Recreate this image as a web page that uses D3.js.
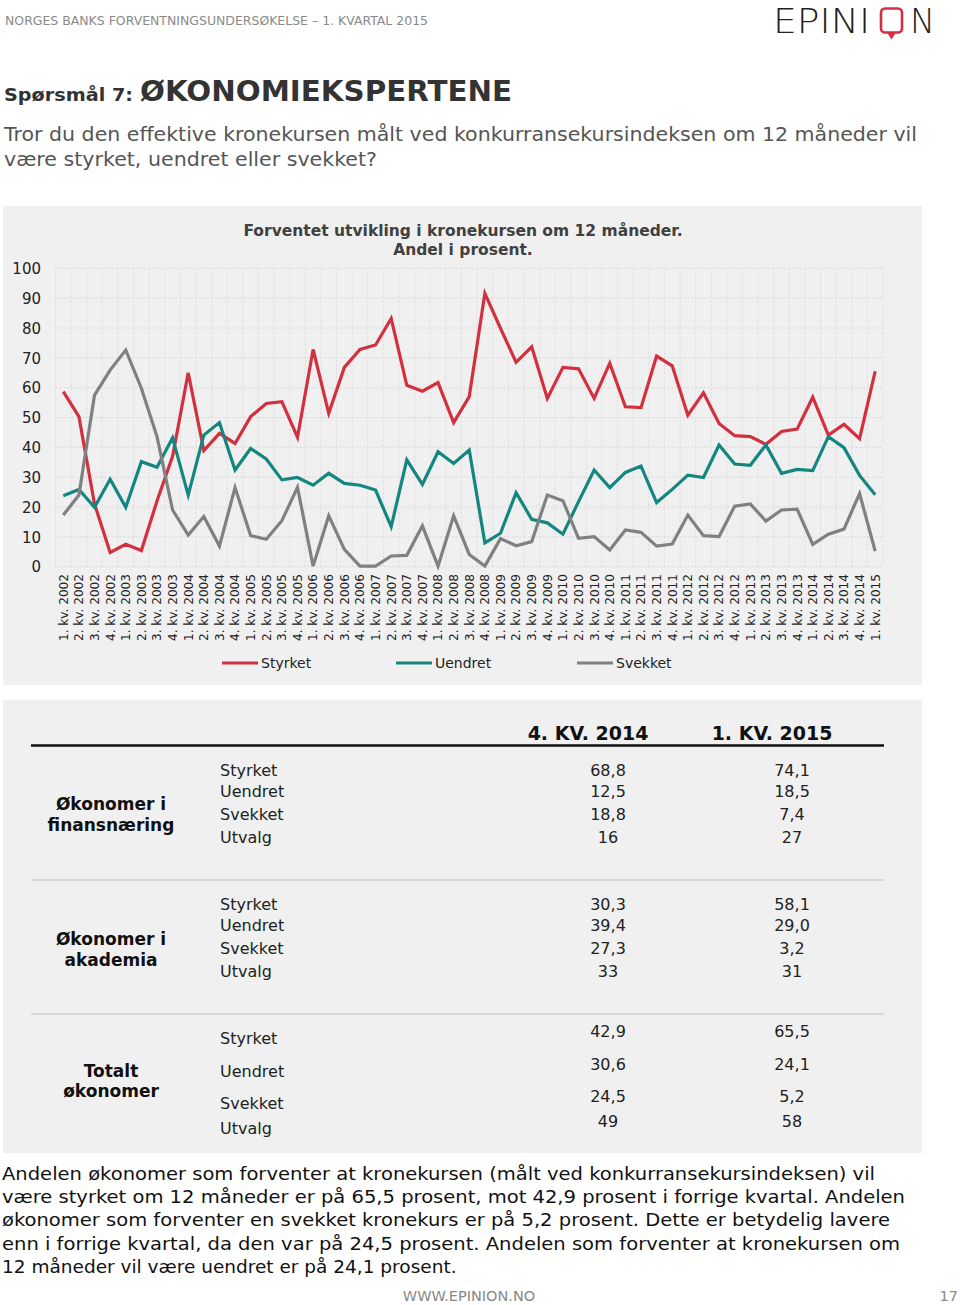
<!DOCTYPE html>
<html><head><meta charset="utf-8">
<script src="https://cdn.jsdelivr.net/npm/d3@7/dist/d3.min.js"></script>
<style>
html,body{margin:0;padding:0;background:#fff;}
svg{display:block;font-family:"DejaVu Sans",Verdana,sans-serif;}
</style></head>
<body>
<svg id="c" width="960" height="1305"></svg>
<script>
const categories = [
"1. kv. 2002","2. kv. 2002","3. kv. 2002","4. kv. 2002",
"1. kv. 2003","2. kv. 2003","3. kv. 2003","4. kv. 2003",
"1. kv. 2004","2. kv. 2004","3. kv. 2004","4. kv. 2004",
"1. kv. 2005","2. kv. 2005","3. kv. 2005","4. kv. 2005",
"1. kv. 2006","2. kv. 2006","3. kv. 2006","4. kv. 2006",
"1. kv. 2007","2. kv. 2007","3. kv. 2007","4. kv. 2007",
"1. kv. 2008","2. kv. 2008","3. kv. 2008","4. kv. 2008",
"1. kv. 2009","2. kv. 2009","3. kv. 2009","4. kv. 2009",
"1. kv. 2010","2. kv. 2010","3. kv. 2010","4. kv. 2010",
"1. kv. 2011","2. kv. 2011","3. kv. 2011","4. kv. 2011",
"1. kv. 2012","2. kv. 2012","3. kv. 2012","4. kv. 2012",
"1. kv. 2013","2. kv. 2013","3. kv. 2013","4. kv. 2013",
"1. kv. 2014","2. kv. 2014","3. kv. 2014","4. kv. 2014",
"1. kv. 2015"];

const styrket = [58.7,50.3,21,4.8,7.5,5.4,22,37,65,38.9,44.7,41.3,50.3,
 54.7,55.3,43.4,72.8,51.4,66.8,72.8,74.3,83.2,60.8,58.8,61.7,48.3,57.0,
 91.6,79.9,68.5,73.7,56.4,66.8,66.3,56.4,68.2,53.6,53.3,70.6,67.3,
 50.8,58.3,48.0,43.9,43.6,41.0,45.3,46.1,56.8,44.1,47.7,42.9,65.5];
const uendret = [23.8,25.9,19.9,29.3,19.9,35.2,33.3,43.2,24.0,44.1,48.3,32.4,39.6,
 36.1,29.1,29.9,27.3,31.3,27.9,27.3,25.7,13.4,35.8,27.6,38.5,34.6,39.1,
 8.0,11.2,24.8,15.9,14.7,10.9,21.8,32.4,26.5,31.6,33.7,21.5,25.9,
 30.7,29.9,40.8,34.4,34.0,40.8,31.3,32.6,32.2,43.6,39.9,30.6,24.1];
const svekket = [17.3,24.0,57.5,65.9,72.6,59.8,43.6,19.0,10.6,16.8,6.9,26.5,10.4,
 9.2,15.4,26.6,0.2,17.1,5.8,0.2,0.2,3.6,3.8,13.7,0.2,17.1,4.1,
 0.2,9.4,7.0,8.4,24.0,22.1,9.5,10.1,5.6,12.3,11.5,6.9,7.6,
 17.3,10.4,10.1,20.3,21.0,15.3,19.0,19.3,7.5,10.9,12.6,24.5,5.2];
const seriesNames = ["Styrket","Uendret","Svekket"];
const seriesColors = ["#d3303f","#138680","#808080"];
const yTicks = [0,10,20,30,40,50,60,70,80,90,100];

const tableHeaders = ["4. KV. 2014","1. KV. 2015"];
const rowLabels = ["Styrket","Uendret","Svekket","Utvalg"];
const groupNames = [["Økonomer i","finansnæring"],["Økonomer i","akademia"],["Totalt","økonomer"]];
const finansQ4 = ["68,8","12,5","18,8","16"];
const finansQ1 = ["74,1","18,5","7,4","27"];
const akademiaQ4 = ["30,3","39,4","27,3","33"];
const akademiaQ1 = ["58,1","29,0","3,2","31"];
const totaltQ4 = ["42,9","30,6","24,5","49"];
const totaltQ1 = ["65,5","24,1","5,2","58"];

const paragraph = [
"Andelen økonomer som forventer at kronekursen (målt ved konkurransekursindeksen) vil",
"være styrket om 12 måneder er på 65,5 prosent, mot 42,9 prosent i forrige kvartal. Andelen",
"økonomer som forventer en svekket kronekurs er på 5,2 prosent. Dette er betydelig lavere",
"enn i forrige kvartal, da den var på 24,5 prosent. Andelen som forventer at kronekursen om",
"12 måneder vil være uendret er på 24,1 prosent."];
const paragraphEnds = [875,905,890,900,null];

const svg = d3.select("#c");

// ---------- header ----------
svg.append("text").attr("x",5).attr("y",25).attr("font-size",13).attr("fill","#8a8a8a")
  .attr("textLength",423).attr("lengthAdjust","spacingAndGlyphs")
  .text("NORGES BANKS FORVENTNINGSUNDERSØKELSE – 1. KVARTAL 2015");

// logo
const logo = svg.append("g");
logo.append("text").attr("x",773).attr("y",33).attr("font-family","'DejaVu Sans',sans-serif")
  .attr("font-weight",200).attr("font-size",33).attr("fill","#222")
  .attr("textLength",97).attr("lengthAdjust","spacingAndGlyphs").text("EPINI");
logo.append("rect").attr("x",881).attr("y",8.5).attr("width",21).attr("height",24).attr("rx",4)
  .attr("fill","none").attr("stroke","#d3303f").attr("stroke-width",2.6);
logo.append("path").attr("d","M888,32.5 L891.5,38 L895,32.5").attr("fill","#d3303f").attr("stroke","#d3303f").attr("stroke-width",1.5);
logo.append("text").attr("x",910).attr("y",33).attr("font-family","'DejaVu Sans',sans-serif")
  .attr("font-weight",200).attr("font-size",33).attr("fill","#222")
  .attr("textLength",25).attr("lengthAdjust","spacingAndGlyphs").text("N");

const t1 = svg.append("text").attr("x",4).attr("y",101).attr("fill","#333").attr("font-weight","bold");
t1.append("tspan").attr("font-size",18).attr("textLength",129).attr("lengthAdjust","spacingAndGlyphs").text("Spørsmål 7:");
t1.append("tspan").attr("font-size",28).attr("x",140).attr("textLength",372).attr("lengthAdjust","spacingAndGlyphs").text("ØKONOMIEKSPERTENE");

svg.append("text").attr("x",4).attr("y",141).attr("font-size",20).attr("fill","#555")
  .attr("textLength",913).attr("lengthAdjust","spacingAndGlyphs")
  .text("Tror du den effektive kronekursen målt ved konkurransekursindeksen om 12 måneder vil");
svg.append("text").attr("x",4).attr("y",166).attr("font-size",20).attr("fill","#555")
  .attr("textLength",373).attr("lengthAdjust","spacingAndGlyphs")
  .text("være styrket, uendret eller svekket?");

// ---------- chart panel ----------
svg.append("rect").attr("x",3).attr("y",206).attr("width",919).attr("height",479).attr("fill","#f0f0f0");

svg.append("text").attr("x",463).attr("y",236).attr("text-anchor","middle").attr("font-size",15.5)
  .attr("font-weight","bold").attr("fill","#404040").text("Forventet utvikling i kronekursen om 12 måneder.");
svg.append("text").attr("x",463).attr("y",255).attr("text-anchor","middle").attr("font-size",15.5)
  .attr("font-weight","bold").attr("fill","#404040").text("Andel i prosent.");

const x = d3.scaleBand().domain(categories).range([55.5,883]).padding(0);
const y = d3.scaleLinear().domain([0,100]).range([566.7,268.3]);
const cx = c => x(c) + x.bandwidth()/2;

const grid = svg.append("g");
grid.selectAll("line.h").data(yTicks).join("line")
  .attr("x1",55.5).attr("x2",883).attr("y1",d=>y(d)).attr("y2",d=>y(d))
  .attr("stroke","#d6d6d6").attr("stroke-width",1).attr("stroke-dasharray","2,2");
grid.selectAll("line.v").data(categories.concat(["end"])).join("line")
  .attr("x1",(d,i)=> i<categories.length ? x(d) : 883)
  .attr("x2",(d,i)=> i<categories.length ? x(d) : 883)
  .attr("y1",y(100)).attr("y2",y(0))
  .attr("stroke","#dadada").attr("stroke-width",1).attr("stroke-dasharray","2,2");

// y axis
const yAxis = svg.append("g").attr("transform","translate(41,0)")
  .call(d3.axisLeft(y).tickValues(yTicks).tickSize(0).tickPadding(0));
yAxis.select(".domain").remove();
yAxis.selectAll("text").attr("font-size",15).attr("fill","#222").attr("font-family","'DejaVu Sans',Verdana,sans-serif")
  .attr("dy","0.35em");

// x axis
const xAxis = svg.append("g").attr("transform","translate(0,570)")
  .call(d3.axisBottom(x).tickSize(0).tickPadding(0));
xAxis.select(".domain").remove();
xAxis.selectAll("text").attr("font-size",12.5).attr("fill","#222")
  .attr("font-family","'DejaVu Sans',Verdana,sans-serif")
  .attr("transform","rotate(-90)").attr("text-anchor","end")
  .attr("x",-4).attr("y",0).attr("dy","0.35em")
  .attr("textLength",67).attr("lengthAdjust","spacingAndGlyphs");

// lines
const data = [styrket, uendret, svekket];
const line = d3.line().x((d,i)=>cx(categories[i])).y(d=>y(d));
svg.append("g").selectAll("path").data(data).join("path")
  .attr("d",d=>line(d)).attr("fill","none")
  .attr("stroke",(d,i)=>seriesColors[i]).attr("stroke-width",3.2)
  .attr("stroke-linejoin","miter").attr("stroke-linecap","butt");

// legend
const legX = [222,396,577];
const leg = svg.append("g").selectAll("g").data(seriesNames).join("g")
  .attr("transform",(d,i)=>`translate(${legX[i]},663)`);
leg.append("line").attr("x1",0).attr("x2",36).attr("y1",0).attr("y2",0)
  .attr("stroke",(d,i)=>seriesColors[i]).attr("stroke-width",3.2);
leg.append("text").attr("x",39).attr("y",0).attr("dy","0.35em").attr("font-size",14).attr("fill","#222").text(d=>d);

// ---------- table panel ----------
svg.append("rect").attr("x",3).attr("y",700).attr("width",919).attr("height",453).attr("fill","#f0f0f0");
const colX = [608,792];
const headX = [588,772];
tableHeaders.forEach((h,i)=>{
  svg.append("text").attr("x",headX[i]).attr("y",740).attr("text-anchor","middle").attr("font-size",19)
    .attr("font-weight","bold").attr("fill","#111").text(h);
});
svg.append("line").attr("x1",31).attr("x2",884).attr("y1",745.5).attr("y2",745.5).attr("stroke","#111").attr("stroke-width",2.5);
svg.append("line").attr("x1",31).attr("x2",884).attr("y1",880).attr("y2",880).attr("stroke","#d8d8d8").attr("stroke-width",2);
svg.append("line").attr("x1",31).attr("x2",884).attr("y1",1014).attr("y2",1014).attr("stroke","#d8d8d8").attr("stroke-width",2);

const groups = [
  {name:groupNames[0], gy:[810,831], labY:[776,797,820,843], valY:[776,797,820,843], vals:[finansQ4,finansQ1]},
  {name:groupNames[1], gy:[945,966], labY:[910,931,954,977], valY:[910,931,954,977], vals:[akademiaQ4,akademiaQ1]},
  {name:groupNames[2], gy:[1077,1097], labY:[1044,1077,1109,1134], valY:[1037,1070,1102,1127], vals:[totaltQ4,totaltQ1]}
];
groups.forEach(g=>{
  g.name.forEach((n,j)=>svg.append("text").attr("x",111).attr("y",g.gy[j]).attr("text-anchor","middle")
    .attr("font-size",17).attr("font-weight","bold").attr("fill","#111").text(n));
  rowLabels.forEach((r,j)=>svg.append("text").attr("x",220).attr("y",g.labY[j]).attr("font-size",16).attr("fill","#222").text(r));
  g.vals.forEach((col,c)=>col.forEach((v,j)=>svg.append("text").attr("x",colX[c]).attr("y",g.valY[j])
    .attr("text-anchor","middle").attr("font-size",16).attr("fill","#222").text(v)));
});

// ---------- paragraph ----------
paragraph.forEach((p,i)=>{
  const t = svg.append("text").attr("x",2).attr("y",1180+i*23.2).attr("font-size",18.5).attr("fill","#111").text(p);
  if(paragraphEnds[i]) t.attr("textLength",paragraphEnds[i]-2).attr("lengthAdjust","spacingAndGlyphs");
});

svg.append("text").attr("x",469).attr("y",1301).attr("text-anchor","middle").attr("font-size",14.5).attr("fill","#888").text("WWW.EPINION.NO");
svg.append("text").attr("x",958).attr("y",1301).attr("text-anchor","end").attr("font-size",14.5).attr("fill","#888").text("17");
</script>
</body></html>
